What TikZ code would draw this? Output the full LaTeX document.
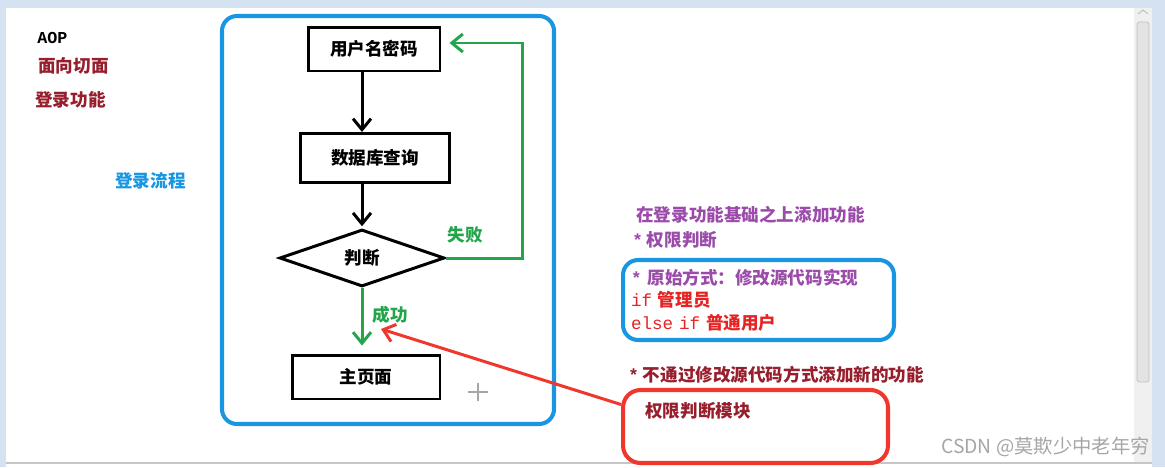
\documentclass[tikz,border=0pt]{standalone}
\usepackage{fontspec}
\setmainfont{Noto Sans CJK SC}
\setmonofont{Liberation Mono}
\usepackage{xcolor}
\usepackage{tikz}
\usetikzlibrary{shapes.geometric,arrows.meta,positioning}

\definecolor{frameblue}{RGB}{25,150,225}
\definecolor{okgreen}{RGB}{35,165,75}
\definecolor{darkred}{RGB}{150,30,45}
\definecolor{purpletxt}{RGB}{155,75,170}
\definecolor{codered}{RGB}{230,35,35}
\definecolor{boxred}{RGB}{240,55,45}
\definecolor{chrome}{RGB}{212,226,242}

\begin{document}
\begin{tikzpicture}[
  x=0.02cm, y=-0.02cm,
  step box/.style={rectangle, draw=black, line width=1.7pt, inner sep=0pt,
              font=\fontsize{10}{12}\selectfont\bfseries},
  decide/.style={diamond, draw=black, line width=1.7pt, inner sep=0pt,
              minimum width=3.3cm, minimum height=1.14cm,
              font=\fontsize{10}{12}\selectfont\bfseries},
  txt/.style={inner sep=0pt, font=\fontsize{10}{12}\selectfont\bfseries},
  flow/.style={-{Straight Barb[length=2.2mm,width=3.6mm]}, line width=1.7pt},
  okarr/.style={flow, draw=okgreen},
]
% screen background and window chrome
\fill[white] (0,0) rectangle (1165,467);
\useasboundingbox (0,0) rectangle (1165,467);
\fill[chrome] (0,0) rectangle (1165,8);
\fill[chrome] (0,0) rectangle (6,467);
\fill[chrome] (1152,0) rectangle (1165,467);
\fill[gray!12] (1134,8) rectangle (1152,463);
\draw[gray!50, fill=gray!22, rounded corners=1pt] (1137,22) rectangle (1149,382);
\draw[gray!60] (1138,14) -- (1143,10) -- (1148,14);
\draw[gray!45, line width=1pt] (6,463) -- (1152,463);

% left notes
\node[txt, anchor=west, font=\ttfamily\bfseries\fontsize{9.5}{11}\selectfont] (aop) at (37,38) {AOP};
\node[txt, anchor=west, text=darkred] (aspect) at (38,66) {面向切面};
\node[txt, anchor=west, text=darkred] (login) at (35,100) {登录功能};
\node[txt, anchor=west, text=frameblue] (flowname) at (115,181) {登录流程};

% login flow
\draw[frameblue, line width=2.3pt, rounded corners=0.3cm] (222,16) rectangle (554,424);
\node[step box, minimum width=2.64cm, minimum height=0.88cm] (user) at (374,49) {用户名密码};
\node[step box, minimum width=3cm, minimum height=0.98cm] (query) at (375,158) {数据库查询};
\node[decide] (judge) at (362,258) {判断\hspace{1.2em}};
\node[step box, minimum width=2.96cm, minimum height=0.88cm] (home) at (366,377) {主页面\hspace{1.2em}};

\draw[flow] (user.south -| judge) -- (query.north -| judge);
\draw[flow] (query.south -| judge) -- ([yshift=1pt]judge.north);
\draw[okarr] (judge.east) -- ++(77,0) |- ([xshift=0.16cm,yshift=0.12cm]user.east);
\draw[okarr] (judge.south) -- ([yshift=0.16cm]home.north -| judge);
\node[txt, text=okgreen] (fail) at (465,235) {失败};
\node[txt, text=okgreen] (ok) at (390,315) {成功};
\draw[gray!70, line width=0.6pt] (468,392) -- (488,392) (478,383) -- (478,401);

% right notes
\node[txt, anchor=west, text=purpletxt] (extra) at (636,215) {在登录功能基础之上添加功能};
\node[txt, anchor=west, text=purpletxt] (perm) at (632,240) {\texttt{*} 权限判断};
\node[draw=frameblue, line width=2.3pt, rounded corners=0.3cm, minimum width=5.42cm,
      minimum height=1.6cm, text width=5.1cm, align=left, inner sep=0pt,
      font=\fontsize{10}{12.8}\selectfont\bfseries] (old) at (758.5,300)
  {\textcolor{purpletxt}{\texttt{*} 原始方式：修改源代码实现}\\
   \textcolor{codered}{\texttt{\mdseries if} 管理员}\\
   \textcolor{codered}{\texttt{\mdseries else if} 普通用户}};
\node[txt, anchor=west, text=darkred] (newway) at (628,375) {\texttt{*} 不通过修改源代码方式添加新的功能};
\node[draw=boxred, line width=2.3pt, rounded corners=0.35cm, minimum width=5.3cm,
      minimum height=1.46cm] (auth) at (755.5,426.5) {};
\node[txt, anchor=west, text=darkred] (authtxt) at (645,411) {权限判断模块};
\coordinate (okpt) at (381,329);
\draw[boxred, line width=1.7pt, -{Straight Barb[length=2.2mm,width=3.6mm]}]
  ([yshift=0.44cm]auth.west) -- (okpt);

\node[txt, anchor=east, text=gray!70, font=\fontsize{11}{13}\selectfont] (mark) at (1150,447) {CSDN @莫欺少中老年穷};
\end{tikzpicture}
\end{document}
